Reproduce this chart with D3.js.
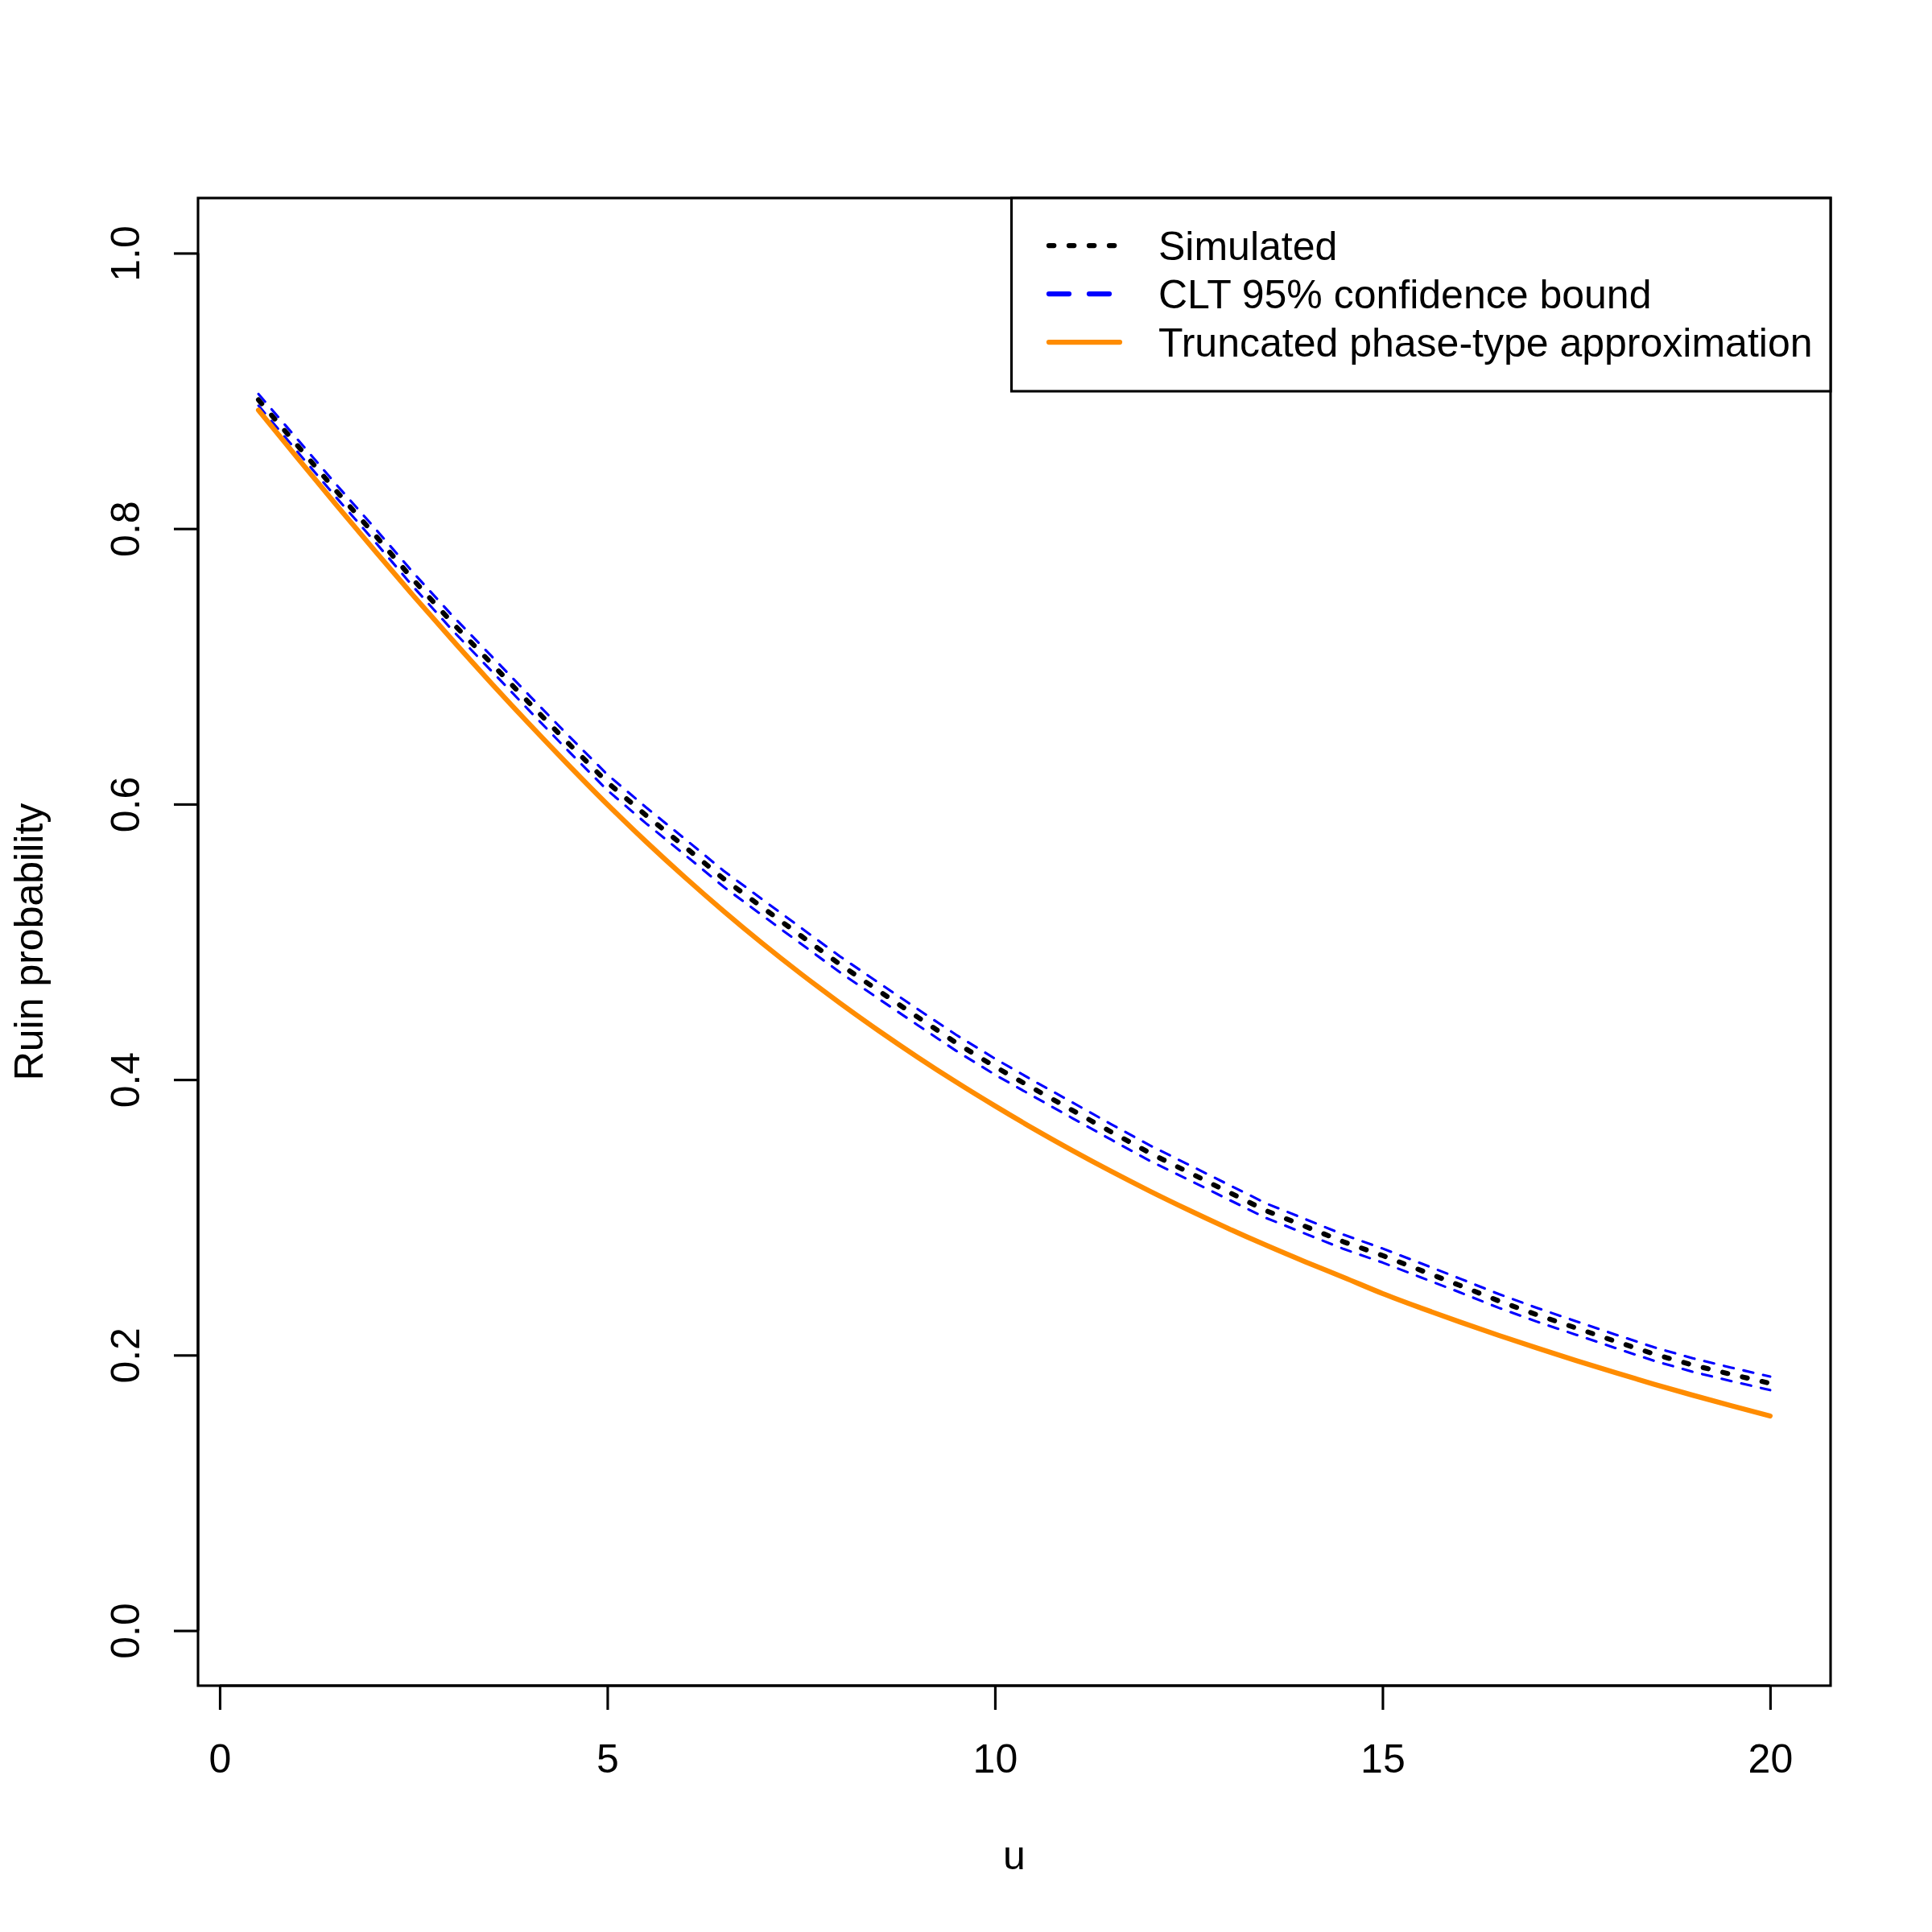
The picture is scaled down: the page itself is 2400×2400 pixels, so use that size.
<!DOCTYPE html>
<html><head><meta charset="utf-8">
<script src="https://cdn.jsdelivr.net/npm/d3@7"></script>
<style>body{margin:0;background:#fff}</style>
</head><body>
<svg id="c" width="2400" height="2400" xmlns="http://www.w3.org/2000/svg"></svg>
<script>
// ---- data ----
const uValues = [0.5,1,1.5,2,2.5,3,3.5,4,4.5,5,5.5,6,6.5,7,7.5,8,8.5,9,9.5,10,
                 10.5,11,11.5,12,12.5,13,13.5,14,14.5,15,15.5,16,16.5,17,17.5,18,18.5,19,19.5,20];
const simulated = [0.8935,0.8605,0.8275,0.7955,0.7627,0.7316,0.7024,0.6730,0.6440,0.6158,
                   0.5918,0.5690,0.5458,0.5250,0.5043,0.4837,0.4645,0.4455,0.4267,0.4094,
                   0.3934,0.3777,0.3620,0.3466,0.3327,0.3187,0.3048,0.2935,0.2822,0.2723,
                   0.2614,0.2505,0.2393,0.2291,0.2196,0.2101,0.2008,0.1928,0.1860,0.1795];
const cltUpper = [0.8977,0.8650,0.8322,0.8004,0.7678,0.7369,0.7078,0.6785,0.6496,0.6215,
                  0.5976,0.5748,0.5516,0.5308,0.5101,0.4895,0.4703,0.4513,0.4325,0.4152,
                  0.3991,0.3834,0.3676,0.3522,0.3382,0.3241,0.3101,0.2988,0.2874,0.2774,
                  0.2665,0.2555,0.2443,0.2341,0.2245,0.2150,0.2057,0.1977,0.1909,0.1844];
const cltLower = [0.8893,0.8560,0.8228,0.7906,0.7576,0.7263,0.6970,0.6675,0.6384,0.6101,
                  0.5860,0.5632,0.5400,0.5192,0.4985,0.4779,0.4587,0.4397,0.4209,0.4036,
                  0.3877,0.3720,0.3564,0.3410,0.3272,0.3133,0.2995,0.2882,0.2770,0.2672,
                  0.2563,0.2455,0.2343,0.2241,0.2147,0.2052,0.1959,0.1879,0.1811,0.1746];
const truncatedPH = [0.8860,0.8515,0.8175,0.7840,0.7512,0.7192,0.6880,0.6577,0.6283,0.5998,
                     0.5727,0.5469,0.5223,0.4989,0.4767,0.4556,0.4355,0.4164,0.3982,0.3809,
                     0.3643,0.3485,0.3334,0.3190,0.3053,0.2922,0.2797,0.2678,0.2564,0.2447,
                     0.2341,0.2240,0.2143,0.2050,0.1960,0.1873,0.1789,0.1709,0.1632,0.1558];
const xTickValues = [0,5,10,15,20];
const xTickLabels = ["0","5","10","15","20"];
const yTickValues = [0,0.2,0.4,0.6,0.8,1.0];
const yTickLabels = ["0.0","0.2","0.4","0.6","0.8","1.0"];
const xDomain = [-0.28, 20.78];
const yDomain = [-0.04, 1.04];
const xTitle = "u";
const yTitle = "Ruin probability";
const legendLabels = ["Simulated","CLT 95% confidence bound","Truncated phase-type approximation"];

// ---- layout ----
const FONT = "'Liberation Sans', Arial, Helvetica, sans-serif";
const L = 246, R = 2274, T = 246, B = 2094;
const LW = 3.125;
const svg = d3.select("#c");
svg.append("rect").attr("width",2400).attr("height",2400).attr("fill","#fff");

const x = d3.scaleLinear().domain(xDomain).range([L, R]);
const y = d3.scaleLinear().domain(yDomain).range([B, T]);

// series lines
const mk = (vals, curve) => d3.line().curve(curve || d3.curveLinear)
  .x((d,i)=>x(uValues[i])).y(d=>y(d))(vals);
const plotG = svg.append("g").attr("fill","none").attr("stroke-linecap","round").attr("stroke-linejoin","round");
plotG.append("path").attr("d", mk(simulated)).attr("stroke","#000").attr("stroke-width",2*LW)
  .attr("stroke-dasharray", `${2*LW} ${6*LW}`);
[cltUpper, cltLower].forEach(s => {
  plotG.append("path").attr("d", mk(s)).attr("stroke","#0000FF").attr("stroke-width",LW)
    .attr("stroke-dasharray", `${4*LW} ${4*LW}`);
});
plotG.append("path").attr("d", mk(truncatedPH, d3.curveMonotoneX)).attr("stroke","#FF8C00").attr("stroke-width",2*LW);

// box
svg.append("rect").attr("x",L).attr("y",T).attr("width",R-L).attr("height",B-T)
  .attr("fill","none").attr("stroke","#000").attr("stroke-width",LW);

// x axis
const gx = svg.append("g").attr("transform",`translate(0,${B})`)
  .call(d3.axisBottom(x).tickValues(xTickValues).tickSize(30).tickFormat((d,i)=>xTickLabels[i]));
gx.select(".domain").remove();
gx.attr("font-family",FONT).attr("font-size",50);
gx.selectAll(".tick line").attr("stroke","#000").attr("stroke-width",LW);
gx.selectAll(".tick text").attr("y",108).attr("dy",null).attr("fill","#000").attr("text-anchor","middle");
gx.append("line").attr("x1",x(xTickValues[0])).attr("x2",x(xTickValues[xTickValues.length-1]))
  .attr("y1",0).attr("y2",0).attr("stroke","#000").attr("stroke-width",LW);

// y axis
const gy = svg.append("g").attr("transform",`translate(${L},0)`)
  .call(d3.axisLeft(y).tickValues(yTickValues).tickSize(30).tickFormat((d,i)=>yTickLabels[i]));
gy.select(".domain").remove();
gy.attr("font-family",FONT).attr("font-size",50);
gy.selectAll(".tick line").attr("stroke","#000").attr("stroke-width",LW);
gy.selectAll(".tick text").attr("x",null).attr("dy",null).attr("fill","#000")
  .attr("text-anchor","middle").attr("transform","translate(-73,0) rotate(-90)");
gy.append("line").attr("y1",y(yTickValues[0])).attr("y2",y(yTickValues[yTickValues.length-1]))
  .attr("x1",0).attr("x2",0).attr("stroke","#000").attr("stroke-width",LW);

// titles
svg.append("text").attr("x",(L+R)/2).attr("y",2322).attr("text-anchor","middle")
  .attr("font-family",FONT).attr("font-size",50).text(xTitle);
svg.append("text").attr("transform",`translate(53,${(T+B)/2}) rotate(-90)`).attr("text-anchor","middle")
  .attr("font-family",FONT).attr("font-size",50).text(yTitle);

// legend
const lg = svg.append("g");
lg.append("rect").attr("x",1256.5).attr("y",T).attr("width",R-1256.5).attr("height",486-T)
  .attr("fill","#fff").attr("stroke","#000").attr("stroke-width",LW);
const legStyles = [
  {stroke:"#000", dash:`${2*LW} ${6*LW}`},
  {stroke:"#0000FF", dash:`${8*LW} ${8*LW}`},
  {stroke:"#FF8C00", dash:null}
];
legendLabels.forEach((lab,i) => {
  const cy = 305 + i*60;
  const ln = lg.append("line").attr("x1",1303).attr("x2",1391).attr("y1",cy).attr("y2",cy)
    .attr("stroke",legStyles[i].stroke).attr("stroke-width",2*LW).attr("stroke-linecap","round");
  if (legStyles[i].dash) ln.attr("stroke-dasharray",legStyles[i].dash);
  lg.append("text").attr("x",1439).attr("y",cy+18).attr("font-family",FONT).attr("font-size",50)
    .attr("fill","#000").text(lab);
});
</script>
</body></html>
